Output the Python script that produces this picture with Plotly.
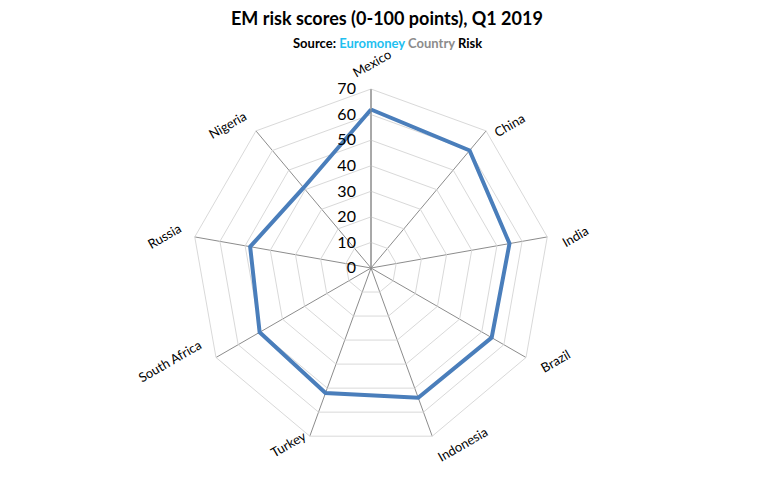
import math
import plotly.graph_objects as go

categories = ["Mexico", "China", "India", "Brazil", "Indonesia", "Turkey",
              "South Africa", "Russia", "Nigeria"]
scores = [62, 60, 55, 54.5, 54, 52, 50.3, 48, 41]
radial_ticks = [0, 10, 20, 30, 40, 50, 60, 70]

FONT = "Lato"
W, H = 780, 477
DOM_X = [0.2462, 0.7051]
DOM_Y = [0.0629, 0.8134]

fig = go.Figure()
fig.add_trace(go.Scatterpolar(
    r=scores + scores[:1],
    theta=categories + categories[:1],
    mode="lines",
    line=dict(color="#4a7ebb", width=4),
    showlegend=False,
    hoverinfo="skip",
))

# category labels placed just outside each spoke end, rotated like the original
cx = (DOM_X[0] + DOM_X[1]) / 2
cy = (DOM_Y[0] + DOM_Y[1]) / 2
rad_px = min((DOM_X[1] - DOM_X[0]) * W, (DOM_Y[1] - DOM_Y[0]) * H) / 2
label_annots = []
n = len(categories)
for i, name in enumerate(categories):
    ang = math.radians(360 * i / n)
    ux, uy = math.sin(ang), math.cos(ang)  # uy positive = up
    vx = cx + ux * rad_px / W
    vy = cy + uy * rad_px / H
    w = 5.7 * len(name)
    gap = 14
    if abs(ux) < 0.1:
        xs, ys = 1, uy * (gap + 12)
    else:
        xs = math.copysign(w / 2, ux) + ux * gap
        ys = uy * 8
    label_annots.append(dict(
        text=name, x=vx, y=vy, xref="paper", yref="paper",
        xanchor="center", yanchor="middle", xshift=xs, yshift=ys,
        textangle=-30, showarrow=False,
        font=dict(family=FONT, size=13, color="black"),
    ))

fig.update_layout(
    width=W, height=H,
    margin=dict(l=0, r=0, t=0, b=0),
    paper_bgcolor="white",
    plot_bgcolor="white",
    font=dict(family=FONT, color="black"),
    polar=dict(
        domain=dict(x=DOM_X, y=DOM_Y),
        bgcolor="white",
        gridshape="linear",
        angularaxis=dict(
            direction="clockwise",
            rotation=90,
            categoryorder="array",
            categoryarray=categories,
            showline=True,
            linecolor="#d9d9d9",
            linewidth=1,
            showgrid=True,
            gridcolor="#8c8c8c",
            gridwidth=1,
            ticks="",
            showticklabels=False,
        ),
        radialaxis=dict(
            range=[0, 70],
            tickvals=radial_ticks,
            ticktext=[("\u2007" + str(v)) if v < 10 else str(v) for v in radial_ticks],
            angle=90,
            tickangle=90,
            side="counterclockwise",
            showline=True,
            linecolor="#8c8c8c",
            linewidth=1,
            showgrid=True,
            gridcolor="#d9d9d9",
            gridwidth=1,
            ticks="outside",
            ticklen=9,
            tickcolor="rgba(0,0,0,0)",
            tickfont=dict(family=FONT, size=16, color="black"),
        ),
    ),
    annotations=[
        dict(text="<b>EM risk scores (0-100 points), Q1 2019</b>",
             x=0.496, y=1 - 18 / H, yanchor="middle",
             xref="paper", yref="paper", showarrow=False,
             font=dict(family=FONT, size=18, color="black")),
        dict(text="<b>Source: <span style='color:#1fbff0'>Euromoney</span> "
                  "<span style='color:#8c8c8c'>Country</span> Risk</b>",
             x=0.497, y=1 - 43 / H, yanchor="middle",
             xref="paper", yref="paper", showarrow=False,
             font=dict(family=FONT, size=13, color="black")),
    ] + label_annots,
)

fig.write_html("out.html")
